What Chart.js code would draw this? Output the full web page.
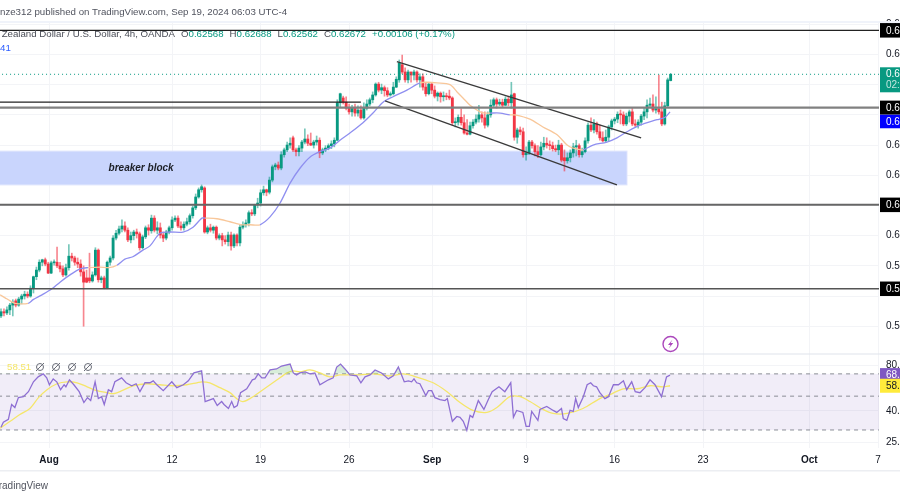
<!DOCTYPE html>
<html lang="en">

<head>
    <meta charset="UTF-8">
    <title>NZDUSD 4h</title>
    <script src="https://cdn.jsdelivr.net/npm/chart.js"></script>
    <style>
        html, body { margin: 0; padding: 0; background: #fff; overflow: hidden; }
    </style>
</head>

<body>
    <canvas id="myChart" width="900" height="500"></canvas>

    <script>
        // 4h candles, oldest first
        const opens = [
            0.5867,0.5874,0.5872,0.5877,0.5885,0.5892,0.5885,0.5895,0.5900,0.5903,
            0.5900,0.5913,0.5932,0.5943,0.5956,0.5960,0.5953,0.5938,0.5955,0.5956,
            0.5950,0.5945,0.5935,0.5947,0.5966,0.5963,0.5956,0.5953,0.5940,0.5930,
            0.5930,0.5925,0.5935,0.5976,0.5927,0.5930,0.5913,0.5956,0.5963,0.5996,
            0.6004,0.6011,0.6016,0.6009,0.5993,0.6000,0.6006,0.6003,0.5980,0.5998,
            0.6013,0.6008,0.6029,0.6009,0.6013,0.6001,0.5996,0.6006,0.6013,0.6026,
            0.6029,0.6016,0.6013,0.6019,0.6023,0.6033,0.6046,0.6064,0.6076,0.6079,
            0.6006,0.6013,0.6009,0.6014,0.5996,0.6000,0.5993,0.5990,0.6001,0.5983,
            0.6001,0.5988,0.6014,0.6018,0.6021,0.6038,0.6036,0.6051,0.6054,0.6071,
            0.6076,0.6072,0.6092,0.6114,0.6117,0.6112,0.6134,0.6142,0.6150,0.6162,
            0.6142,0.6139,0.6145,0.6155,0.6160,0.6153,0.6150,0.6155,0.6158,0.6137,
            0.6142,0.6145,0.6149,0.6152,0.6158,0.6220,0.6228,0.6221,0.6211,0.6205,
            0.6211,0.6203,0.6208,0.6195,0.6211,0.6218,0.6225,0.6233,0.6251,0.6241,
            0.6245,0.6240,0.6233,0.6235,0.6246,0.6258,0.6283,0.6271,0.6258,0.6271,
            0.6266,0.6271,0.6258,0.6263,0.6246,0.6235,0.6251,0.6241,0.6231,0.6236,
            0.6230,0.6231,0.6231,0.6228,0.6187,0.6188,0.6196,0.6187,0.6170,0.6168,
            0.6182,0.6188,0.6193,0.6200,0.6195,0.6183,0.6200,0.6216,0.6225,0.6218,
            0.6221,0.6216,0.6226,0.6220,0.6235,0.6163,0.6175,0.6172,0.6134,0.6137,
            0.6155,0.6149,0.6139,0.6134,0.6147,0.6153,0.6150,0.6149,0.6144,0.6142,
            0.6150,0.6129,0.6124,0.6129,0.6137,0.6147,0.6149,0.6134,0.6139,0.6157,
            0.6183,0.6175,0.6185,0.6172,0.6162,0.6157,0.6163,0.6180,0.6190,0.6193,
            0.6201,0.6200,0.6185,0.6198,0.6205,0.6185,0.6183,0.6188,0.6198,0.6205,
            0.6216,0.6218,0.6208,0.6210,0.6205,0.6185,0.6215,0.62568];
        const closes = [
            0.5874,0.5872,0.5877,0.5885,0.5890,0.5885,0.5895,0.5900,0.5903,0.5900,
            0.5913,0.5932,0.5943,0.5956,0.5960,0.5953,0.5938,0.5955,0.5956,0.5950,
            0.5945,0.5935,0.5947,0.5966,0.5963,0.5956,0.5953,0.5940,0.5923,0.5923,
            0.5925,0.5935,0.5976,0.5927,0.5930,0.5913,0.5956,0.5963,0.5996,0.6004,
            0.6011,0.6016,0.6009,0.5993,0.6000,0.6006,0.6003,0.5980,0.5998,0.6013,
            0.6009,0.6029,0.6009,0.6013,0.6001,0.5996,0.6006,0.6013,0.6026,0.6029,
            0.6016,0.6013,0.6019,0.6023,0.6033,0.6046,0.6064,0.6076,0.6081,0.6006,
            0.6013,0.6009,0.6014,0.5996,0.6000,0.5993,0.5990,0.6001,0.5983,0.6001,
            0.5988,0.6014,0.6018,0.6021,0.6038,0.6036,0.6051,0.6054,0.6071,0.6076,
            0.6072,0.6092,0.6114,0.6117,0.6112,0.6134,0.6142,0.6150,0.6153,0.6142,
            0.6139,0.6145,0.6155,0.6160,0.6153,0.6150,0.6155,0.6158,0.6137,0.6142,
            0.6145,0.6149,0.6152,0.6158,0.6220,0.6235,0.6221,0.6211,0.6205,0.6211,
            0.6203,0.6208,0.6195,0.6211,0.6218,0.6225,0.6233,0.6251,0.6241,0.6245,
            0.6240,0.6233,0.6235,0.6246,0.6259,0.6286,0.6271,0.6258,0.6271,0.6266,
            0.6271,0.6258,0.6263,0.6246,0.6235,0.6251,0.6241,0.6231,0.6236,0.6230,
            0.6231,0.6230,0.6228,0.6187,0.6188,0.6196,0.6187,0.6170,0.6168,0.6182,
            0.6188,0.6193,0.6200,0.6195,0.6183,0.6200,0.6216,0.6225,0.6218,0.6221,
            0.6216,0.6226,0.6220,0.6233,0.6163,0.6175,0.6172,0.6134,0.6137,0.6155,
            0.6149,0.6139,0.6134,0.6147,0.6153,0.6150,0.6149,0.6144,0.6142,0.6150,
            0.6125,0.6124,0.6129,0.6137,0.6147,0.6149,0.6134,0.6139,0.6157,0.6183,
            0.6175,0.6185,0.6172,0.6162,0.6157,0.6163,0.6180,0.6190,0.6193,0.6201,
            0.6200,0.6185,0.6198,0.6205,0.6185,0.6183,0.6188,0.6198,0.6205,0.6216,
            0.6218,0.6208,0.6210,0.6205,0.6185,0.6215,0.6258,0.62672];
        const highs = [
            0.5879,0.5879,0.5882,0.5888,0.5894,0.5895,0.5898,0.5903,0.5908,0.5907,
            0.5917,0.5933,0.5948,0.5960,0.5961,0.5963,0.5956,0.5958,0.5960,0.5981,
            0.5956,0.5950,0.5953,0.5985,0.5971,0.5966,0.5963,0.5960,0.5950,0.5943,
            0.5971,0.5940,0.5980,0.5978,0.5933,0.5933,0.5958,0.5966,0.6000,0.6009,
            0.6016,0.6026,0.6023,0.6013,0.6006,0.6009,0.6011,0.6006,0.6001,0.6016,
            0.6018,0.6034,0.6033,0.6023,0.6021,0.6006,0.6009,0.6016,0.6031,0.6033,
            0.6033,0.6023,0.6023,0.6029,0.6036,0.6049,0.6069,0.6079,0.6084,0.6081,
            0.6016,0.6019,0.6016,0.6016,0.6003,0.6004,0.6000,0.6006,0.6006,0.6003,
            0.6003,0.6018,0.6023,0.6026,0.6041,0.6043,0.6052,0.6062,0.6076,0.6082,
            0.6077,0.6097,0.6117,0.6120,0.6122,0.6139,0.6145,0.6155,0.6162,0.6165,
            0.6145,0.6149,0.6158,0.6177,0.6167,0.6170,0.6158,0.6165,0.6162,0.6145,
            0.6149,0.6152,0.6157,0.6162,0.6225,0.6236,0.6231,0.6230,0.6218,0.6216,
            0.6218,0.6215,0.6215,0.6220,0.6225,0.6228,0.6238,0.6253,0.6254,0.6251,
            0.6248,0.6245,0.6238,0.6254,0.6263,0.6291,0.6299,0.6278,0.6274,0.6271,
            0.6274,0.6273,0.6268,0.6268,0.6253,0.6254,0.6253,0.6248,0.6238,0.6238,
            0.6238,0.6236,0.6241,0.6230,0.6195,0.6200,0.6210,0.6200,0.6192,0.6188,
            0.6192,0.6200,0.6216,0.6205,0.6205,0.6205,0.6225,0.6228,0.6228,0.6226,
            0.6226,0.6230,0.6231,0.6254,0.6236,0.6178,0.6180,0.6178,0.6147,0.6158,
            0.6158,0.6152,0.6149,0.6155,0.6163,0.6162,0.6157,0.6155,0.6150,0.6158,
            0.6153,0.6142,0.6137,0.6142,0.6153,0.6158,0.6152,0.6145,0.6162,0.6187,
            0.6195,0.6192,0.6188,0.6183,0.6172,0.6175,0.6183,0.6193,0.6196,0.6205,
            0.6208,0.6205,0.6203,0.6208,0.6211,0.6192,0.6192,0.6201,0.6211,0.6225,
            0.6228,0.6233,0.6230,0.6266,0.6221,0.6221,0.6261,0.62688];
        const lows = [
            0.5864,0.5867,0.5869,0.5869,0.5867,0.5882,0.5883,0.5887,0.5895,0.5897,
            0.5898,0.5905,0.5927,0.5940,0.5950,0.5950,0.5937,0.5937,0.5951,0.5947,
            0.5940,0.5932,0.5933,0.5943,0.5958,0.5951,0.5947,0.5933,0.5850,0.5922,
            0.5922,0.5923,0.5933,0.5923,0.5922,0.5912,0.5912,0.5951,0.5960,0.5993,
            0.6001,0.6006,0.6006,0.5990,0.5988,0.5993,0.5996,0.5976,0.5978,0.5995,
            0.6001,0.6004,0.6006,0.6003,0.5996,0.5990,0.5993,0.6003,0.6009,0.6023,
            0.6013,0.6009,0.6009,0.6016,0.6019,0.6029,0.6043,0.6062,0.6072,0.6004,
            0.6003,0.6006,0.6004,0.5993,0.5993,0.5983,0.5986,0.5983,0.5976,0.5980,
            0.5983,0.5983,0.6011,0.6014,0.6016,0.6033,0.6033,0.6046,0.6049,0.6067,
            0.6066,0.6069,0.6089,0.6109,0.6109,0.6109,0.6130,0.6139,0.6145,0.6139,
            0.6132,0.6132,0.6139,0.6152,0.6149,0.6149,0.6145,0.6150,0.6129,0.6134,
            0.6139,0.6142,0.6144,0.6147,0.6157,0.6213,0.6218,0.6208,0.6201,0.6198,
            0.6198,0.6198,0.6193,0.6193,0.6208,0.6215,0.6220,0.6231,0.6238,0.6235,
            0.6231,0.6230,0.6231,0.6233,0.6245,0.6254,0.6268,0.6254,0.6253,0.6254,
            0.6258,0.6254,0.6246,0.6241,0.6231,0.6233,0.6235,0.6228,0.6223,0.6221,
            0.6223,0.6225,0.6225,0.6183,0.6180,0.6183,0.6183,0.6168,0.6167,0.6167,
            0.6178,0.6185,0.6188,0.6188,0.6178,0.6180,0.6196,0.6213,0.6211,0.6215,
            0.6213,0.6215,0.6215,0.6211,0.6158,0.6153,0.6167,0.6130,0.6125,0.6134,
            0.6145,0.6132,0.6129,0.6132,0.6142,0.6145,0.6142,0.6140,0.6139,0.6134,
            0.6122,0.6107,0.6120,0.6122,0.6130,0.6132,0.6130,0.6130,0.6137,0.6153,
            0.6172,0.6170,0.6168,0.6158,0.6155,0.6155,0.6157,0.6175,0.6185,0.6187,
            0.6185,0.6182,0.6182,0.6188,0.6182,0.6180,0.6178,0.6183,0.6192,0.6195,
            0.6213,0.6205,0.6203,0.6201,0.6182,0.6183,0.6213,0.62562];

        // moving average on the price pane, b = below price, o = above price
        const maBars = [-0.3,1.4,3.1,4.7,9.2,10.9,13.9,17.3,20,23.4,26.8,29.5,33.6,36.6,39.3,42,44.7,48.1,50.5,53.9,57.3,61.7,65.1,68.1,69.2,73.2,77.6,81.7,84.4,87.8,91.2,94.6,98,101.4,104.7,108.1,111.5,114.9,118.3,122.7,126.1,129.5,132.9,137.6,142,144.4,147.8,152.2,154.6,156.6,159,162.4,164.1,165.8,169.2,172.5,174.2,179.3,183.7,188.5,191.9,193.9,197.3,200.7,205.4,208.8,212.2,216.6,222.4,225.1,226.8];
        const maValues = [0.5902,0.5897,0.5892,0.5888,0.5888,0.5894,0.5902,0.5912,0.5923,0.5935,0.5945,0.5947,0.5948,0.5947,0.5951,0.5961,0.5965,0.5976,0.5983,0.6004,0.6006,0.6006,0.6014,0.6029,0.6029,0.6028,0.6023,0.6018,0.6018,0.6018,0.6031,0.6054,0.6087,0.6112,0.6130,0.6139,0.6145,0.6158,0.6170,0.6187,0.6203,0.6221,0.6230,0.6241,0.6253,0.6254,0.6253,0.6250,0.6238,0.6228,0.6216,0.6205,0.6203,0.6203,0.6203,0.6200,0.6200,0.6193,0.6180,0.6167,0.6150,0.6145,0.6142,0.6150,0.6155,0.6162,0.6172,0.6183,0.6192,0.6196,0.6205];
        const maSides = 'oooobbbbbbbooobbbbbbbbbbooooobbbbbbbbbbbbbbbooooooooobbooooooobbbbbbbbb'.split('');

        // drawn levels and channel
        const levelValues = [0.6340, 0.6212, 0.6051, 0.5912];
        const levelWidths = [1.2, 2.4, 2, 1.6];
        const levelColors = ['#222', '#808080', '#666', '#555'];
        const shortLevel = { value: 0.6221, endBar: 122 };
        const lastPrice = 0.62672;
        const channelTop = [[134.2, 0.6288], [217, 0.6162]];
        const channelBottom = [[130.2, 0.6223], [208.8, 0.6084]];
        const block = { from: -1, to: 212.2, top: 0.6140, bottom: 0.6084, text: 'breaker block', textBar: 47.5, textValue: 0.6111 };

        // RSI pane
        const rsiBars = [0,0.8,2.5,3.6,4.7,5.9,7.6,9.3,11,12.6,14.3,15.5,16.4,17.7,18.9,20.2,21.4,22,23.2,24.7,26.5,28.1,29.3,30.4,31.9,33,34.1,35,36.4,37.5,38.6,40.9,42.4,44.3,45.8,47.1,48.8,50.5,51.6,52.8,55,57.9,59.6,61.8,63.5,65.4,68,69.2,72,73.3,74.8,75.6,77.1,78.2,79,80.1,81.2,83.3,85.2,86.1,87.2,88.4,89.5,91.2,93.4,95.1,98,99.1,100.2,101.3,103.1,104.7,106.4,108.1,111,112.6,113.8,115.1,116.6,118.3,120.6,122,123.4,125.1,126.8,129,131.3,133,134.7,136.7,138.1,139.2,140,140.9,142,144,144.9,146,147.1,148.8,150.5,151.3,153,154.5,155.6,156.7,157.9,159,159.9,161.8,163.7,165.2,166.5,168.8,170.8,172.8,173.7,174.8,176.9,178,179.1,179.9,182,182.7,185,187.2,188.4,190,190.6,191.8,192.9,194,194.8,195.7,197.4,198.7,199.9,200.8,201.9,203,204.7,205.9,207.6,209.3,211,212.1,213.8,215,216.6,218.3,220,221.7,223.9,225.6,226.8];
        const rsiValues = [31.3,33.7,35.2,44.1,42.1,48.9,49.6,53.5,62.1,66.9,70,65.9,59.4,64.9,62.1,55.1,59.4,57.6,64,59.4,53.5,45.4,48.9,46.8,62.1,48.2,49.6,44.1,55.1,53.5,62.1,65.9,61.2,58.5,60.3,53.5,61.2,61.2,63,59.4,54.3,62.1,56.8,59.4,63,71,73.2,46.1,48.2,43.4,46.1,44.1,41.5,46.1,42.1,43.4,52.7,55.9,64,64.9,70,65.9,65.9,74.3,75.4,78.8,81.2,71,68.9,71,72.1,70,71,59.4,64,65.9,77.6,81.2,75.4,68.9,67.9,61.2,66.9,68.9,74.3,71,64.9,67.9,77.6,62.1,63,62.1,64.9,61.2,60.3,50.4,54.3,54.3,48.9,47.5,46.8,48.2,34.2,36.8,36.3,34.2,29.9,37.4,36.3,46.8,40.9,47.5,53.5,57.6,53.5,61.2,36.3,40.3,39.1,31.7,31.7,39.7,34.7,40.9,42.8,40.3,39.1,41.5,35.7,34.7,40.3,39.7,48.2,42.1,49.6,59.4,61.2,58.5,57.6,52.7,48.2,49.6,59.4,59.4,63,55.1,62.1,53.5,52.7,56.8,64,59.4,49.6,66.9,68.7];
        const rsiMaBars = [-0.3,3.1,6.4,9.8,12.7,15.6,19,22.4,25.8,29.2,32.5,35.9,38,41,44.8,49.5,53.9,58.3,63,66.4,68.1,70.8,74.2,77.6,80.3,82,84.4,88.8,93.6,97,99,101.4,104.7,108.1,111.5,114.9,118.3,121.7,126.1,131.9,136.3,139.7,146.5,151.2,155.6,160,164.7,168.1,172.5,176,179.3,183.7,187.1,191.9,197.3,203,206.4,210.9,215.6,220,224.4,226.8];
        const rsiMaValues = [30.8,34.2,37.9,41.5,48.9,55.1,60.3,62.1,61.2,57.6,54.3,52.7,51.9,54.3,58.5,60.3,59.4,58.5,59.4,61.2,62.1,61.2,56.8,52.7,47.5,46.1,48.2,55.1,64,71,73.2,72.1,74.3,71,66.9,68.9,68.9,68.9,70,67.9,70,67.9,61.2,53.5,45.4,40.3,39.1,42.1,49.6,49.6,46.1,40.9,38.5,38.5,41.5,48.2,51.1,55.9,55.9,58.5,57.6,58.51];
        const rsiBands = [70, 50, 30];

        // axes
        const xTickBars = [16.3, 58, 88, 118, 146.2, 178, 208, 238, 274, 297.3];
        const xTickLabels = ['Aug', '12', '19', '26', 'Sep', '9', '16', '23', 'Oct', '7'];
        const xBold = ['Aug', 'Sep', 'Oct'];
        const priceTicks = [0.635, 0.63, 0.625, 0.62, 0.615, 0.61, 0.605, 0.6, 0.595, 0.59, 0.585];
        const priceHidden = [0.62, 0.605, 0.59];
        const rsiTicks = [80, 40, 25];

        const GREEN = '#089981', RED = '#f23645';
        const FONT = "'Liberation Sans', sans-serif";
        const barsIndex = opens.map((_, i) => i);
        const pairs = (xs, ys) => xs.map((x, i) => ({ x: x, y: ys[i] }));
        const lineStyle = (color, width) => ({ type: 'line', borderColor: color, borderWidth: width, pointRadius: 0, fill: false, tension: 0 });

        const levelDatasets = levelValues.map((v, i) => ({
            ...lineStyle(levelColors[i], levelWidths[i]), yAxisID: 'y', order: 1,
            data: [{ x: -1, y: v }, { x: 299, y: v }]
        }));
        const bandDatasets = rsiBands.map(v => ({
            ...lineStyle('#8a8d96', 1), borderDash: [4, 4], yAxisID: 'rsi', order: 6,
            data: [{ x: -1, y: v }, { x: 299, y: v }]
        }));

        const panes = {
            id: 'panes',
            beforeDatasetsDraw(chart) {
                const { ctx, scales: { x, y, rsi }, chartArea } = chart;
                ctx.save();
                ctx.fillStyle = 'rgba(126,87,194,0.11)';
                const t = rsi.getPixelForValue(rsiBands[0]), b = rsi.getPixelForValue(rsiBands[2]);
                ctx.fillRect(chartArea.left, t, chartArea.width, b - t);
                const top = y.getPixelForValue(block.top), bottom = y.getPixelForValue(block.bottom);
                const right = x.getPixelForValue(block.to);
                ctx.fillStyle = '#c9d5fd';
                ctx.fillRect(0, top, right, bottom - top);
                ctx.strokeStyle = '#dfe5fd';
                ctx.strokeRect(-2, top, right + 2, bottom - top);
                ctx.restore();
            },
            afterDraw(chart) {
                const { ctx, scales: { x, y, rsi } } = chart;
                ctx.save();
                ctx.textBaseline = 'middle';

                // frame lines
                ctx.fillStyle = '#f0f3fa';
                ctx.fillRect(0, 21, 900, 2);
                ctx.fillStyle = '#e0e3eb';
                ctx.fillRect(0, 353.5, 900, 1);
                ctx.fillStyle = '#eceef2';
                ctx.fillRect(0, 470, 900, 1.5);

                // header
                ctx.textAlign = 'left';
                ctx.fillStyle = '#50535e';
                ctx.font = '9.7px ' + FONT;
                ctx.fillText('nze312 published on TradingView.com, Sep 19, 2024 06:03 UTC-4', 0, 12);
                ctx.fillStyle = '#4a4d57';
                ctx.font = '9.7px ' + FONT;
                ctx.textAlign = 'right';
                ctx.fillText('New Zealand Dollar / U.S. Dollar, 4h, OANDA', 175, 34);
                ctx.textAlign = 'left';
                let cx = 181;
                [['O', '0.62568'], ['H', '0.62688'], ['L', '0.62562'], ['C', '0.62672']].forEach(p => {
                    ctx.fillStyle = '#4a4d57';
                    ctx.fillText(p[0], cx, 34);
                    cx += ctx.measureText(p[0]).width;
                    ctx.fillStyle = GREEN;
                    ctx.fillText(p[1], cx, 34);
                    cx += ctx.measureText(p[1]).width + 6;
                });
                ctx.fillText('+0.00106 (+0.17%)', cx, 34);
                ctx.fillStyle = '#2b5cff';
                ctx.fillText('41', 0, 48);

                // breaker block label
                ctx.fillStyle = '#1c1f26';
                ctx.font = 'italic bold 10px ' + FONT;
                ctx.textAlign = 'center';
                ctx.fillText(block.text, x.getPixelForValue(block.textBar), y.getPixelForValue(block.textValue));

                // rsi legend
                ctx.textAlign = 'left';
                ctx.fillStyle = '#f5e66a';
                ctx.font = '9.7px ' + FONT;
                ctx.fillText('58.51', 7, 367);
                ctx.strokeStyle = '#6a6d78';
                ctx.lineWidth = 1;
                [40, 56, 72, 88].forEach(px => {
                    ctx.beginPath();
                    ctx.arc(px, 367, 3.5, 0, Math.PI * 2);
                    ctx.moveTo(px - 4, 371);
                    ctx.lineTo(px + 4, 363);
                    ctx.stroke();
                });

                // flash icon
                ctx.strokeStyle = '#ab47bc';
                ctx.lineWidth = 1.4;
                ctx.beginPath();
                ctx.arc(670.5, 344, 7.5, 0, Math.PI * 2);
                ctx.stroke();
                ctx.fillStyle = '#ab47bc';
                ctx.beginPath();
                ctx.moveTo(672.5, 339.5);
                ctx.lineTo(668, 345);
                ctx.lineTo(670.5, 345);
                ctx.lineTo(668.8, 348.5);
                ctx.lineTo(673.2, 343);
                ctx.lineTo(670.6, 343);
                ctx.closePath();
                ctx.fill();

                // price tags on the right axis
                const tag = (scale, value, h, bg, fg, text, sub) => {
                    const py = scale.getPixelForValue(value);
                    ctx.fillStyle = bg;
                    ctx.fillRect(880, py - (sub ? 7 : h / 2), 20, h);
                    ctx.fillStyle = fg;
                    ctx.font = '10px ' + FONT;
                    ctx.fillText(text, 886, sub ? py : py + 0.5);
                    if (sub) {
                        ctx.fillStyle = 'rgba(255,255,255,0.75)';
                        ctx.fillText(sub, 886, py + 11);
                    }
                };
                tag(y, levelValues[0], 14.5, '#000', '#fff', '0.63400');
                tag(y, lastPrice, 25, GREEN, '#fff', '0.62672', '02:56:41');
                tag(y, levelValues[2], 14.5, '#000', '#fff', '0.60510');
                tag(y, levelValues[3], 14.5, '#000', '#fff', '0.59120');
                tag(y, levelValues[1], 14, '#000', '#fff', '0.62120');
                tag(y, 0.6189, 13.5, '#0000ff', '#fff', '0.61890');
                tag(rsi, 68.7, 14, '#7e57c2', '#fff', '68.70');
                tag(rsi, 58.51, 14, '#ffeb3b', '#131722', '58.51');

                // watermark line
                ctx.fillStyle = '#50535e';
                ctx.font = '10px ' + FONT;
                ctx.textAlign = 'right';
                ctx.fillText('TradingView', 48, 486);
                ctx.restore();
            }
        };

        new Chart(document.getElementById('myChart'), {
            type: 'bar',
            plugins: [panes],
            data: {
                datasets: [
                    ...levelDatasets,
                    {
                        ...lineStyle('#222', 1.2), yAxisID: 'y', order: 1,
                        data: [{ x: -1, y: shortLevel.value }, { x: shortLevel.endBar, y: shortLevel.value }]
                    },
                    {
                        ...lineStyle(GREEN, 1), borderDash: [1, 3], yAxisID: 'y', order: 2,
                        data: [{ x: -1, y: lastPrice }, { x: 299, y: lastPrice }]
                    },
                    { ...lineStyle('#3a3a3a', 1.3), yAxisID: 'y', order: 1, data: channelTop.map(p => ({ x: p[0], y: p[1] })) },
                    { ...lineStyle('#3a3a3a', 1.3), yAxisID: 'y', order: 1, data: channelBottom.map(p => ({ x: p[0], y: p[1] })) },
                    {
                        yAxisID: 'y', order: 3, barThickness: 2.2, minBarLength: 1,
                        data: barsIndex.map(i => ({ x: i, y: [opens[i], closes[i]] })),
                        backgroundColor: barsIndex.map(i => closes[i] >= opens[i] ? GREEN : RED)
                    },
                    {
                        yAxisID: 'y', order: 4, barThickness: 1,
                        data: barsIndex.map(i => ({ x: i, y: [lows[i], highs[i]] })),
                        backgroundColor: barsIndex.map(i => closes[i] >= opens[i] ? 'rgba(8,153,129,0.55)' : 'rgba(242,54,69,0.6)')
                    },
                    {
                        ...lineStyle('#8f8ff0', 1.3), yAxisID: 'y', order: 2, tension: 0.3,
                        data: pairs(maBars, maValues),
                        segment: { borderColor: c => maSides[c.p0DataIndex] === 'o' ? '#f8c79a' : '#8f8ff0' }
                    },
                    ...bandDatasets,
                    {
                        ...lineStyle('#f5e66a', 1.3), yAxisID: 'rsi', order: 5, tension: 0.3,
                        data: pairs(rsiMaBars, rsiMaValues)
                    },
                    {
                        ...lineStyle('#8e6fd3', 1.3), yAxisID: 'rsi', order: 4,
                        data: pairs(rsiBars, rsiValues),
                        fill: { target: { value: 70 }, above: 'rgba(76,175,80,0.22)', below: 'rgba(0,0,0,0)' }
                    }
                ]
            },
            options: {
                responsive: false,
                animation: false,
                events: [],
                layout: { padding: { top: 22, bottom: 30, left: 0, right: 0 } },
                datasets: { bar: { grouped: false, borderWidth: 0 } },
                plugins: { legend: { display: false }, tooltip: { enabled: false }, title: { display: false } },
                scales: {
                    x: {
                        type: 'linear',
                        offset: false,
                        min: -0.339,
                        max: 297.63,
                        afterFit: s => { s.height = 22; s.paddingLeft = 0; s.paddingRight = 0; },
                        afterBuildTicks: s => { s.ticks = xTickBars.map(v => ({ value: v })); },
                        grid: { color: '#f3f4f7', tickLength: 0, offset: false },
                        border: { display: false },
                        ticks: {
                            autoSkip: false,
                            maxRotation: 0,
                            padding: 6,
                            color: '#131722',
                            font: c => ({ size: 10, family: FONT, weight: xBold.includes(c.tick && c.tick.label) ? 'bold' : 'normal' }),
                            callback: (v, i) => xTickLabels[i]
                        }
                    },
                    y: {
                        position: 'right',
                        stack: 'panes',
                        stackWeight: 332,
                        min: 0.5804,
                        max: 0.63538,
                        afterFit: s => { s.width = 21; },
                        afterBuildTicks: s => { s.ticks = priceTicks.map(v => ({ value: v })); },
                        grid: { color: '#f3f4f7', tickLength: 0 },
                        border: { display: false },
                        ticks: {
                            padding: 7,
                            color: '#131722',
                            font: { size: 10, family: FONT },
                            callback: v => priceHidden.includes(v) ? '' : v.toFixed(5)
                        }
                    },
                    rsi: {
                        type: 'logarithmic',
                        position: 'right',
                        stack: 'panes',
                        stackWeight: 94,
                        min: 22.85,
                        max: 94.5,
                        afterFit: s => { s.width = 21; },
                        afterBuildTicks: s => { s.ticks = rsiTicks.map(v => ({ value: v })); },
                        grid: { color: '#f3f4f7', tickLength: 0 },
                        border: { display: false },
                        ticks: {
                            padding: 7,
                            color: '#131722',
                            font: { size: 10, family: FONT },
                            callback: v => v.toFixed(2)
                        }
                    }
                }
            }
        });
    </script>
</body>

</html>
